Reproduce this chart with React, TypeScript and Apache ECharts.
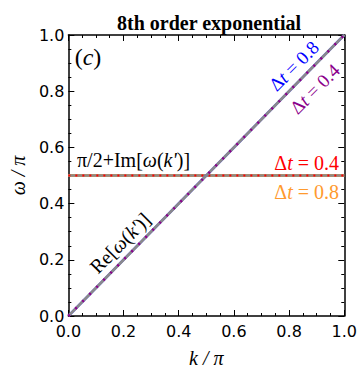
import React, { useEffect, useRef } from "react";
import * as echarts from "echarts";

const kValues = [0, 0.1, 0.2, 0.3, 0.4, 0.5, 0.6, 0.7, 0.8, 0.9, 1.0];
const reOmega = [0, 0.1, 0.2, 0.3, 0.4, 0.5, 0.6, 0.7, 0.8, 0.9, 1.0];
const imOmegaShifted = [0.5, 0.5, 0.5, 0.5, 0.5, 0.5, 0.5, 0.5, 0.5, 0.5, 0.5];
const tickLabels = ["0.0", "0.2", "0.4", "0.6", "0.8", "1.0"];

const serif = "'Liberation Serif', 'DejaVu Serif', serif";
const sans = "'DejaVu Sans', sans-serif";

function pairs(ys: number[]) {
  return kValues.map((k, i) => [k, ys[i]]);
}

function dtRich(color: string, val: string, size: number) {
  return {
    text: `{a|Δ}{b|t}{a| = ${val}}`,
    rich: {
      a: { fontFamily: serif, fontSize: size, fill: color, color },
      b: { fontFamily: serif, fontSize: size, fontStyle: "italic", fill: color, color },
    },
  };
}

export default function App() {
  const ref = useRef<HTMLDivElement>(null);
  useEffect(() => {
    const chart = echarts.init(ref.current!, null, { renderer: "svg" });
    const axisCommon = {
      type: "value" as const,
      min: 0,
      max: 1,
      interval: 0.2,
      axisLine: { show: true, onZero: false, lineStyle: { color: "#000", width: 1.5 } },
      axisTick: { show: true, inside: true, length: 6, lineStyle: { color: "#000", width: 1 } },
      minorTick: { show: true, splitNumber: 4, length: 3, lineStyle: { color: "#000", width: 1 } },
      splitLine: { show: false },
    };
    const labelStyle = {
      show: true,
      color: "#000",
      fontFamily: sans,
      fontSize: 16,
      formatter: (v: number) => tickLabels[Math.round(v * 5)],
    };
    chart.setOption({
      animation: false,
      backgroundColor: "#fff",
      title: {
        text: "8th order exponential",
        left: 204,
        textAlign: "center",
        top: 8,
        textStyle: { fontFamily: serif, fontWeight: "bold", fontSize: 20, color: "#000" },
      },
      grid: { left: 62, right: 15, top: 35, bottom: 61 },
      xAxis: [
        {
          ...axisCommon,
          position: "bottom",
          axisLabel: { ...labelStyle, margin: 7 },
          name: "k / π",
          nameLocation: "middle",
          nameGap: 32,
          nameTextStyle: { fontFamily: serif, fontStyle: "italic", fontSize: 20, color: "#000" },
        },
        { ...axisCommon, position: "top", axisLabel: { show: false } },
      ],
      yAxis: [
        {
          ...axisCommon,
          position: "left",
          axisLabel: { ...labelStyle, margin: 4 },
          name: "ω / π",
          nameLocation: "middle",
          nameGap: 40,
          nameTextStyle: { fontFamily: serif, fontStyle: "italic", fontSize: 20, color: "#000" },
        },
        { ...axisCommon, position: "right", axisLabel: { show: false } },
      ],
      series: [
        {
          type: "line",
          data: pairs(imOmegaShifted),
          symbol: "none",
          lineStyle: { color: "#ff9a2e", width: 2.8 },
        },
        {
          type: "line",
          data: pairs(imOmegaShifted),
          symbol: "none",
          lineStyle: { color: "#8a8a8a", width: 2.3 },
        },
        {
          type: "line",
          data: pairs(imOmegaShifted),
          symbol: "none",
          lineStyle: { color: "#ff0000", width: 2, type: [2, 5] },
        },
        {
          type: "line",
          data: pairs(reOmega),
          symbol: "none",
          lineStyle: { color: "#6a6ad0", width: 2.8 },
        },
        {
          type: "line",
          data: pairs(reOmega),
          symbol: "none",
          lineStyle: { color: "#8a8a8a", width: 2.4 },
        },
        {
          type: "line",
          data: pairs(reOmega),
          symbol: "none",
          lineStyle: { color: "#8b008b", width: 2.5, type: [2, 8] },
        },
      ],
      graphic: [
        {
          type: "text",
          x: 88,
          y: 57,
          style: {
            text: "{a|(}{b|c}{a|)}",
            rich: {
              a: { fontFamily: serif, fontSize: 24, fill: "#000" },
              b: { fontFamily: serif, fontSize: 24, fontStyle: "italic", fill: "#000" },
            },
            align: "center",
            verticalAlign: "middle",
          },
        },
        {
          type: "text",
          x: 294,
          y: 66,
          rotation: Math.PI / 4,
          style: { ...dtRich("#0000ff", "0.8", 19), align: "center", verticalAlign: "middle" },
        },
        {
          type: "text",
          x: 315,
          y: 89,
          rotation: Math.PI / 4,
          style: { ...dtRich("#8b008b", "0.4", 19), align: "center", verticalAlign: "middle" },
        },
        {
          type: "text",
          x: 77,
          y: 160,
          style: {
            text: "{a|π/2+Im[}{b|ω}{a|(}{b|k'}{a|)]}",
            rich: {
              a: { fontFamily: serif, fontSize: 20, fill: "#000" },
              b: { fontFamily: serif, fontSize: 20, fontStyle: "italic", fill: "#000" },
            },
            align: "left",
            verticalAlign: "middle",
          },
        },
        {
          type: "text",
          x: 339,
          y: 163,
          style: { ...dtRich("#ff0000", "0.4", 20), align: "right", verticalAlign: "middle" },
        },
        {
          type: "text",
          x: 339,
          y: 192,
          style: { ...dtRich("#ff9a2e", "0.8", 20), align: "right", verticalAlign: "middle" },
        },
        {
          type: "text",
          x: 120,
          y: 243,
          rotation: Math.PI / 4,
          style: {
            text: "{a|Re[}{b|ω}{a|(}{b|k'}{a|)]}",
            rich: {
              a: { fontFamily: serif, fontSize: 20, fill: "#000" },
              b: { fontFamily: serif, fontSize: 20, fontStyle: "italic", fill: "#000" },
            },
            align: "center",
            verticalAlign: "middle",
          },
        },
      ],
    });
    return () => chart.dispose();
  }, []);
  return <div ref={ref} style={{ width: 360, height: 377, position: "absolute", left: 0, top: 0 }} />;
}
